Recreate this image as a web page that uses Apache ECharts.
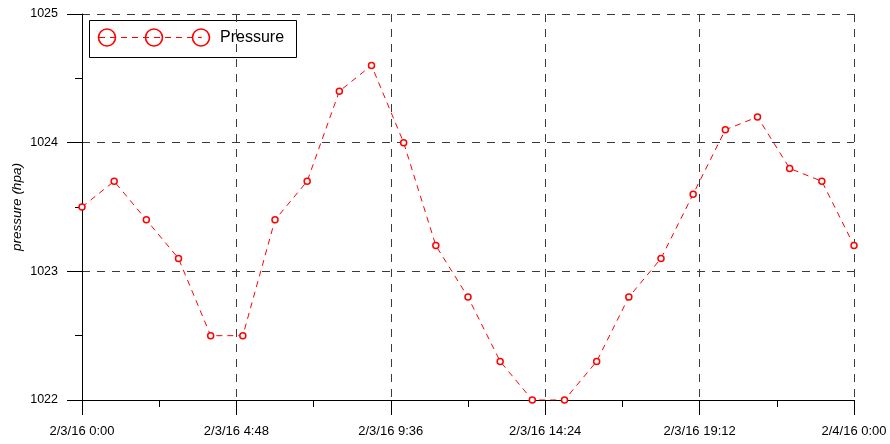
<!DOCTYPE html>
<html>
<head>
<meta charset="utf-8">
<script src="https://cdn.jsdelivr.net/npm/echarts@6/dist/echarts.min.js"></script>
<style>
  html, body { margin: 0; padding: 0; background: #fff; }
  #chart { width: 890px; height: 444px; }
</style>
</head>
<body>
<div id="chart"></div>
<script>
// Hourly pressure readings, minutes since 2/3/16 0:00
const minutes = [0, 60, 120, 180, 240, 300, 360, 420, 480, 540, 600, 660, 720,
                 780, 840, 900, 960, 1020, 1080, 1140, 1200, 1260, 1320, 1380, 1440];
const pressure = [1023.5, 1023.7, 1023.4, 1023.1, 1022.5, 1022.5, 1023.4, 1023.7,
                  1024.4, 1024.6, 1024.0, 1023.2, 1022.8, 1022.3, 1022.0, 1022.0,
                  1022.3, 1022.8, 1023.1, 1023.6, 1024.1, 1024.2, 1023.8, 1023.7, 1023.2];
const xTickLabels = ['2/3/16 0:00', '2/3/16 4:48', '2/3/16 9:36', '2/3/16 14:24',
                     '2/3/16 19:12', '2/4/16 0:00'];
const xStep = 288;          // 4 h 48 min
const seriesName = 'Pressure';
const yAxisTitle = 'pressure (hpa)';

const FONT = "'Liberation Sans', Arial, sans-serif";
const RED = '#ff0000';
const GRID_COLOR = '#3a3a3a';

const chart = echarts.init(document.getElementById('chart'), null, { renderer: 'canvas' });

// Legend drawn as a boxed sample: three hollow circles joined by a dashed line
const legendX = 89.5, legendY = 20.5, legendCy = 37.5;
const legendCircles = [107, 154, 201].map(cx => ({
  type: 'circle',
  shape: { cx: cx, cy: legendCy, r: 8.5 },
  style: { fill: null, stroke: RED, lineWidth: 1.6 }
}));

chart.setOption({
  animation: false,
  backgroundColor: '#fff',
  grid: { left: 82, right: 36, top: 14, bottom: 44, containLabel: false, outerBoundsMode: 'none' },
  xAxis: {
    type: 'value',
    min: 0,
    max: 1440,
    interval: xStep,
    axisLine: { show: true, onZero: false, lineStyle: { color: '#000', width: 1 } },
    axisTick: { show: true, inside: false, length: 15, lineStyle: { color: '#000', width: 1 } },
    minorTick: { show: true, splitNumber: 2, length: 7, lineStyle: { color: '#000', width: 1 } },
    axisLabel: {
      margin: 25,
      color: '#000',
      fontFamily: FONT,
      fontSize: 13,
      formatter: v => xTickLabels[Math.round(v / xStep)] || ''
    },
    splitLine: {
      show: true,
      lineStyle: {
        color: ['rgba(0,0,0,0)', GRID_COLOR, GRID_COLOR, GRID_COLOR, GRID_COLOR, GRID_COLOR],
        type: [8, 7],
        width: 1
      }
    }
  },
  yAxis: {
    type: 'value',
    min: 1022,
    max: 1025,
    interval: 1,
    name: yAxisTitle,
    nameLocation: 'middle',
    nameGap: 58,
    nameMoveOverlap: false,
    nameTextStyle: { color: '#000', fontFamily: FONT, fontSize: 13.5, fontStyle: 'italic' },
    axisLine: { show: true, onZero: false, lineStyle: { color: '#000', width: 1 } },
    axisTick: { show: true, inside: false, length: 15, lineStyle: { color: '#000', width: 1 } },
    minorTick: { show: true, splitNumber: 2, length: 7, lineStyle: { color: '#000', width: 1 } },
    axisLabel: {
      margin: 24,
      color: '#000',
      fontFamily: FONT,
      fontSize: 12.5,
      formatter: v => String(v)
    },
    splitLine: {
      show: true,
      lineStyle: {
        color: ['rgba(0,0,0,0)', GRID_COLOR, GRID_COLOR, GRID_COLOR],
        type: [8, 7],
        width: 1
      }
    }
  },
  series: [{
    name: seriesName,
    type: 'line',
    data: minutes.map((m, i) => [m, pressure[i]]),
    symbol: 'circle',
    symbolSize: 6,
    showAllSymbol: true,
    lineStyle: { color: RED, width: 1, type: [6, 5] },
    itemStyle: { color: '#fff', borderColor: RED, borderWidth: 1.5 },
    emphasis: { disabled: true },
    z: 5
  }],
  graphic: [{
    type: 'group',
    z: 100,
    children: [
      {
        type: 'rect',
        shape: { x: legendX, y: legendY, width: 207, height: 37 },
        style: { fill: '#fff', stroke: '#000', lineWidth: 1 }
      },
      {
        type: 'line',
        shape: { x1: 99, y1: legendCy, x2: 201, y2: legendCy },
        style: { stroke: RED, lineWidth: 1, lineDash: [6, 5] }
      },
      ...legendCircles,
      {
        type: 'circle',
        shape: { cx: 201, cy: legendCy, r: 0.8 },
        style: { fill: RED }
      },
      {
        type: 'text',
        x: 220,
        y: legendCy,
        style: {
          text: seriesName,
          fill: '#000',
          font: '16px ' + FONT,
          textVerticalAlign: 'middle',
          verticalAlign: 'middle'
        }
      }
    ]
  }]
});
</script>
</body>
</html>
